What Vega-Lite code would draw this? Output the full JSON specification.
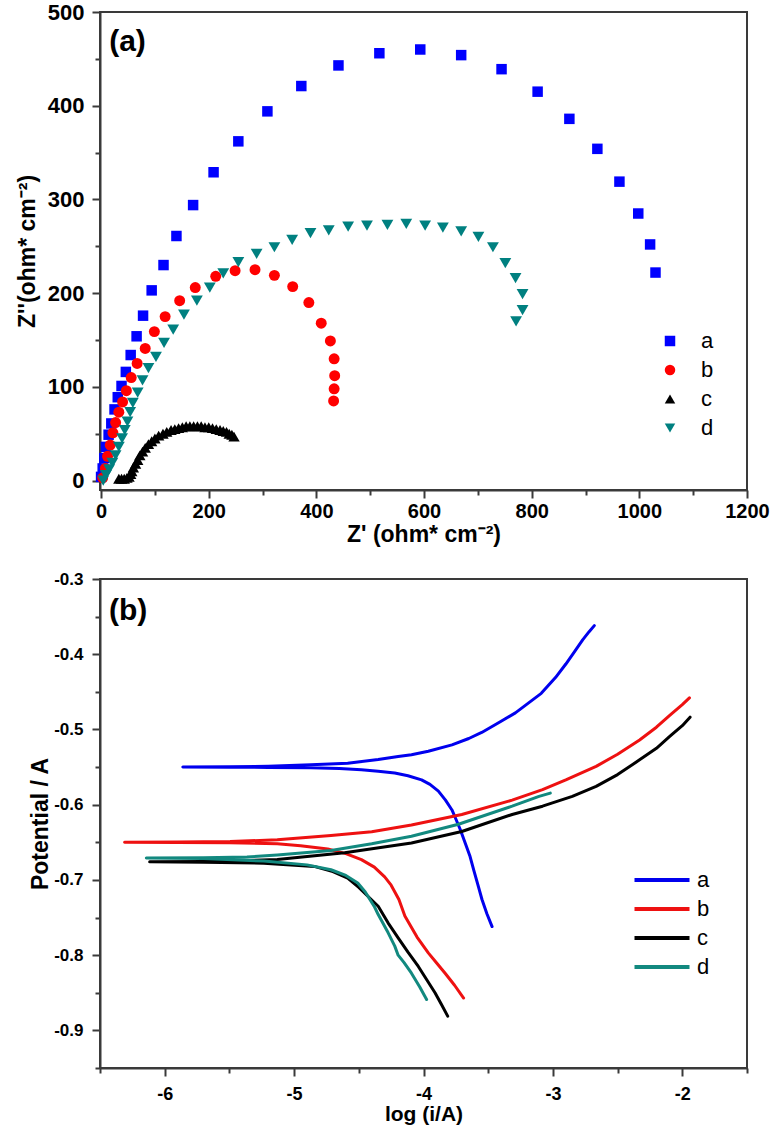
{
  "$schema": "https://vega.github.io/schema/vega-lite/v6.json",
  "padding": {"left": 15, "top": 0, "right": 10, "bottom": 0},
  "bounds": "flush",
  "spacing": 89,
  "config": {
    "font": "Liberation Sans",
    "view": {"stroke": "#3a3a3a", "strokeWidth": 2},
    "axis": {"grid": false, "labelFont": "Liberation Sans", "labelFontWeight": "bold", "titleFont": "Liberation Sans", "titleFontWeight": "bold", "labelColor": "#000", "titleColor": "#000", "domainColor": "#3a3a3a", "tickColor": "#3a3a3a", "domainWidth": 2, "tickWidth": 2, "labelOverlap": false, "labelFlush": false},
    "legend": {"labelFont": "Liberation Sans", "labelColor": "#000"}
  },
  "datasets": {
    "eis": [
      {"s":"a","zr":0,"zi":4},{"s":"a","zr":3,"zi":13},{"s":"a","zr":6,"zi":24},{"s":"a","zr":9,"zi":36},{"s":"a","zr":14,"zi":49},{"s":"a","zr":19,"zi":61},{"s":"a","zr":25,"zi":76},{"s":"a","zr":31,"zi":89},{"s":"a","zr":38,"zi":101},{"s":"a","zr":46,"zi":116},{"s":"a","zr":55,"zi":134},{"s":"a","zr":66,"zi":154},{"s":"a","zr":78,"zi":176},{"s":"a","zr":94,"zi":203},{"s":"a","zr":116,"zi":230},{"s":"a","zr":140,"zi":261},{"s":"a","zr":171,"zi":294},{"s":"a","zr":209,"zi":329},{"s":"a","zr":255,"zi":362},{"s":"a","zr":309,"zi":394},{"s":"a","zr":372,"zi":421},{"s":"a","zr":441,"zi":443},{"s":"a","zr":517,"zi":456},{"s":"a","zr":593,"zi":460},{"s":"a","zr":669,"zi":454},{"s":"a","zr":744,"zi":439},{"s":"a","zr":811,"zi":415},{"s":"a","zr":870,"zi":386},{"s":"a","zr":922,"zi":354},{"s":"a","zr":963,"zi":319},{"s":"a","zr":998,"zi":285},{"s":"a","zr":1020,"zi":252},{"s":"a","zr":1030,"zi":222},
      {"s":"b","zr":3,"zi":3},{"s":"b","zr":8,"zi":13},{"s":"b","zr":12,"zi":26},{"s":"b","zr":17,"zi":38},{"s":"b","zr":22,"zi":51},{"s":"b","zr":27,"zi":62},{"s":"b","zr":33,"zi":73},{"s":"b","zr":40,"zi":84},{"s":"b","zr":47,"zi":96},{"s":"b","zr":56,"zi":110},{"s":"b","zr":67,"zi":125},{"s":"b","zr":82,"zi":141},{"s":"b","zr":99,"zi":159},{"s":"b","zr":119,"zi":175},{"s":"b","zr":146,"zi":192},{"s":"b","zr":175,"zi":206},{"s":"b","zr":213,"zi":218},{"s":"b","zr":249,"zi":224},{"s":"b","zr":286,"zi":225},{"s":"b","zr":322,"zi":219},{"s":"b","zr":356,"zi":207},{"s":"b","zr":386,"zi":190},{"s":"b","zr":409,"zi":168},{"s":"b","zr":426,"zi":149},{"s":"b","zr":433,"zi":130},{"s":"b","zr":434,"zi":112},{"s":"b","zr":433,"zi":98},{"s":"b","zr":432,"zi":85},
      {"s":"c","zr":33,"zi":2},{"s":"c","zr":38,"zi":2},{"s":"c","zr":43,"zi":2},{"s":"c","zr":48,"zi":3},{"s":"c","zr":52,"zi":4},{"s":"c","zr":55,"zi":7},{"s":"c","zr":57,"zi":10},{"s":"c","zr":60,"zi":14},{"s":"c","zr":64,"zi":18},{"s":"c","zr":68,"zi":22},{"s":"c","zr":72,"zi":27},{"s":"c","zr":77,"zi":31},{"s":"c","zr":82,"zi":35},{"s":"c","zr":88,"zi":39},{"s":"c","zr":94,"zi":42},{"s":"c","zr":100,"zi":45},{"s":"c","zr":107,"zi":48},{"s":"c","zr":115,"zi":50},{"s":"c","zr":122,"zi":52},{"s":"c","zr":130,"zi":54},{"s":"c","zr":137,"zi":55},{"s":"c","zr":144,"zi":56},{"s":"c","zr":151,"zi":57},{"s":"c","zr":158,"zi":58},{"s":"c","zr":165,"zi":58},{"s":"c","zr":172,"zi":58},{"s":"c","zr":179,"zi":58},{"s":"c","zr":186,"zi":58},{"s":"c","zr":193,"zi":57},{"s":"c","zr":200,"zi":57},{"s":"c","zr":207,"zi":56},{"s":"c","zr":214,"zi":55},{"s":"c","zr":221,"zi":54},{"s":"c","zr":227,"zi":53},{"s":"c","zr":233,"zi":52},{"s":"c","zr":238,"zi":50},{"s":"c","zr":243,"zi":49},{"s":"c","zr":247,"zi":47},
      {"s":"d","zr":4,"zi":0},{"s":"d","zr":9,"zi":6},{"s":"d","zr":15,"zi":12},{"s":"d","zr":21,"zi":19},{"s":"d","zr":27,"zi":27},{"s":"d","zr":33,"zi":36},{"s":"d","zr":39,"zi":45},{"s":"d","zr":44,"zi":54},{"s":"d","zr":49,"zi":63},{"s":"d","zr":54,"zi":73},{"s":"d","zr":59,"zi":83},{"s":"d","zr":68,"zi":94},{"s":"d","zr":77,"zi":107},{"s":"d","zr":88,"zi":120},{"s":"d","zr":102,"zi":132},{"s":"d","zr":117,"zi":147},{"s":"d","zr":134,"zi":161},{"s":"d","zr":154,"zi":177},{"s":"d","zr":178,"zi":192},{"s":"d","zr":202,"zi":206},{"s":"d","zr":227,"zi":221},{"s":"d","zr":255,"zi":233},{"s":"d","zr":289,"zi":242},{"s":"d","zr":322,"zi":249},{"s":"d","zr":355,"zi":257},{"s":"d","zr":389,"zi":264},{"s":"d","zr":423,"zi":267},{"s":"d","zr":459,"zi":271},{"s":"d","zr":494,"zi":272},{"s":"d","zr":532,"zi":273},{"s":"d","zr":567,"zi":274},{"s":"d","zr":602,"zi":272},{"s":"d","zr":635,"zi":270},{"s":"d","zr":669,"zi":266},{"s":"d","zr":701,"zi":260},{"s":"d","zr":728,"zi":249},{"s":"d","zr":751,"zi":232},{"s":"d","zr":770,"zi":216},{"s":"d","zr":783,"zi":199},{"s":"d","zr":783,"zi":182},{"s":"d","zr":771,"zi":170}
    ],
    "tafel": [
      {"s":"a","logi":-3.47,"E":-0.762},{"s":"a","logi":-3.51,"E":-0.745},{"s":"a","logi":-3.548,"E":-0.726},{"s":"a","logi":-3.574,"E":-0.71},{"s":"a","logi":-3.61,"E":-0.688},{"s":"a","logi":-3.64,"E":-0.669},{"s":"a","logi":-3.68,"E":-0.65},{"s":"a","logi":-3.716,"E":-0.633},{"s":"a","logi":-3.75,"E":-0.619},{"s":"a","logi":-3.78,"E":-0.607},{"s":"a","logi":-3.83,"E":-0.594},{"s":"a","logi":-3.885,"E":-0.582},{"s":"a","logi":-3.95,"E":-0.573},{"s":"a","logi":-4.015,"E":-0.567},{"s":"a","logi":-4.12,"E":-0.5615},{"s":"a","logi":-4.222,"E":-0.558},{"s":"a","logi":-4.35,"E":-0.5555},{"s":"a","logi":-4.48,"E":-0.5537},{"s":"a","logi":-4.65,"E":-0.552},{"s":"a","logi":-4.87,"E":-0.5508},{"s":"a","logi":-5.2,"E":-0.5504},{"s":"a","logi":-5.5,"E":-0.5502},
      {"s":"a","logi":-5.86,"E":-0.55},
      {"s":"a","logi":-5.5,"E":-0.5497},{"s":"a","logi":-5.2,"E":-0.549},{"s":"a","logi":-4.87,"E":-0.547},{"s":"a","logi":-4.586,"E":-0.5448},{"s":"a","logi":-4.35,"E":-0.54},{"s":"a","logi":-4.196,"E":-0.536},{"s":"a","logi":-4.093,"E":-0.5335},{"s":"a","logi":-3.963,"E":-0.529},{"s":"a","logi":-3.78,"E":-0.5205},{"s":"a","logi":-3.65,"E":-0.512},{"s":"a","logi":-3.55,"E":-0.504},{"s":"a","logi":-3.42,"E":-0.491},{"s":"a","logi":-3.29,"E":-0.478},{"s":"a","logi":-3.19,"E":-0.465},{"s":"a","logi":-3.09,"E":-0.452},{"s":"a","logi":-2.98,"E":-0.431},{"s":"a","logi":-2.9,"E":-0.413},{"s":"a","logi":-2.83,"E":-0.396},{"s":"a","logi":-2.77,"E":-0.381},{"s":"a","logi":-2.72,"E":-0.37},{"s":"a","logi":-2.68,"E":-0.362},
      {"s":"b","logi":-3.69,"E":-0.857},{"s":"b","logi":-3.76,"E":-0.84},{"s":"b","logi":-3.833,"E":-0.824},{"s":"b","logi":-3.9,"E":-0.81},{"s":"b","logi":-3.963,"E":-0.797},{"s":"b","logi":-4.05,"E":-0.776},{"s":"b","logi":-4.144,"E":-0.748},{"s":"b","logi":-4.19,"E":-0.726},{"s":"b","logi":-4.25,"E":-0.707},{"s":"b","logi":-4.3,"E":-0.696},{"s":"b","logi":-4.38,"E":-0.683},{"s":"b","logi":-4.48,"E":-0.673},{"s":"b","logi":-4.6,"E":-0.665},{"s":"b","logi":-4.74,"E":-0.659},{"s":"b","logi":-4.95,"E":-0.6545},{"s":"b","logi":-5.13,"E":-0.652},{"s":"b","logi":-5.5,"E":-0.6506},{"s":"b","logi":-5.9,"E":-0.6502},
      {"s":"b","logi":-6.31,"E":-0.65},
      {"s":"b","logi":-5.9,"E":-0.6497},{"s":"b","logi":-5.494,"E":-0.649},{"s":"b","logi":-5.13,"E":-0.6466},{"s":"b","logi":-4.715,"E":-0.641},{"s":"b","logi":-4.4,"E":-0.636},{"s":"b","logi":-4.093,"E":-0.627},{"s":"b","logi":-3.704,"E":-0.613},{"s":"b","logi":-3.315,"E":-0.594},{"s":"b","logi":-3.08,"E":-0.58},{"s":"b","logi":-2.9,"E":-0.567},{"s":"b","logi":-2.666,"E":-0.549},{"s":"b","logi":-2.5,"E":-0.533},{"s":"b","logi":-2.33,"E":-0.514},{"s":"b","logi":-2.2,"E":-0.497},{"s":"b","logi":-2.095,"E":-0.481},{"s":"b","logi":-2.0,"E":-0.467},{"s":"b","logi":-1.945,"E":-0.458},
      {"s":"c","logi":-3.813,"E":-0.881},{"s":"c","logi":-3.86,"E":-0.866},{"s":"c","logi":-3.911,"E":-0.85},{"s":"c","logi":-3.97,"E":-0.834},{"s":"c","logi":-4.04,"E":-0.815},{"s":"c","logi":-4.12,"E":-0.796},{"s":"c","logi":-4.196,"E":-0.777},{"s":"c","logi":-4.274,"E":-0.757},{"s":"c","logi":-4.35,"E":-0.735},{"s":"c","logi":-4.404,"E":-0.726},{"s":"c","logi":-4.5,"E":-0.71},{"s":"c","logi":-4.586,"E":-0.6975},{"s":"c","logi":-4.7,"E":-0.689},{"s":"c","logi":-4.845,"E":-0.682},{"s":"c","logi":-5.234,"E":-0.6778},{"s":"c","logi":-5.7,"E":-0.6765},
      {"s":"c","logi":-6.116,"E":-0.676},
      {"s":"c","logi":-5.7,"E":-0.6755},{"s":"c","logi":-5.13,"E":-0.673},{"s":"c","logi":-4.61,"E":-0.664},{"s":"c","logi":-4.093,"E":-0.651},{"s":"c","logi":-3.704,"E":-0.6356},{"s":"c","logi":-3.315,"E":-0.613},{"s":"c","logi":-3.08,"E":-0.602},{"s":"c","logi":-2.85,"E":-0.589},{"s":"c","logi":-2.666,"E":-0.5757},{"s":"c","logi":-2.5,"E":-0.56},{"s":"c","logi":-2.33,"E":-0.5404},{"s":"c","logi":-2.2,"E":-0.525},{"s":"c","logi":-2.095,"E":-0.509},{"s":"c","logi":-2.0,"E":-0.495},{"s":"c","logi":-1.94,"E":-0.4837},
      {"s":"d","logi":-3.976,"E":-0.859},{"s":"d","logi":-4.03,"E":-0.842},{"s":"d","logi":-4.093,"E":-0.824},{"s":"d","logi":-4.15,"E":-0.81},{"s":"d","logi":-4.196,"E":-0.8},{"s":"d","logi":-4.222,"E":-0.788},{"s":"d","logi":-4.274,"E":-0.77},{"s":"d","logi":-4.35,"E":-0.746},{"s":"d","logi":-4.378,"E":-0.736},{"s":"d","logi":-4.45,"E":-0.716},{"s":"d","logi":-4.508,"E":-0.704},{"s":"d","logi":-4.6,"E":-0.694},{"s":"d","logi":-4.715,"E":-0.6865},{"s":"d","logi":-4.9,"E":-0.68},{"s":"d","logi":-5.234,"E":-0.675},{"s":"d","logi":-5.7,"E":-0.6715},
      {"s":"d","logi":-6.142,"E":-0.671},
      {"s":"d","logi":-5.7,"E":-0.6705},{"s":"d","logi":-5.364,"E":-0.6696},{"s":"d","logi":-5.13,"E":-0.667},{"s":"d","logi":-4.715,"E":-0.661},{"s":"d","logi":-4.4,"E":-0.652},{"s":"d","logi":-4.093,"E":-0.642},{"s":"d","logi":-3.73,"E":-0.626},{"s":"d","logi":-3.315,"E":-0.602},{"s":"d","logi":-3.107,"E":-0.589},{"s":"d","logi":-3.02,"E":-0.5846}
    ]
  },
  "vconcat": [
    {
      "width": 647,
      "height": 478,
      "layer": [
        {
          "data": {"name": "eis"},
          "mark": {"type": "point", "filled": true, "opacity": 1},
          "encoding": {
            "x": {"field": "zr", "type": "quantitative", "scale": {"domain": [-2, 1200], "nice": false, "zero": false},
              "axis": {"title": "Z' (ohm* cm⁻²)", "titleFontSize": 23, "labelFontSize": 20, "values": [0,100,200,300,400,500,600,700,800,900,1000,1100,1200],
                "labelExpr": "datum.value % 200 === 0 ? toString(datum.value) : ''",
                "tickSize": {"condition": {"test": "datum.value % 200 === 0", "value": 8}, "value": 5},
                "labelPadding": 3, "titlePadding": 2}},
            "y": {"field": "zi", "type": "quantitative", "scale": {"domain": [-10, 500], "nice": false, "zero": false},
              "axis": {"title": "Z''(ohm* cm⁻²)", "titleFontSize": 23, "labelFontSize": 22, "values": [0,50,100,150,200,250,300,350,400,450,500],
                "labelExpr": "datum.value % 100 === 0 ? toString(datum.value) : ''",
                "tickSize": {"condition": {"test": "datum.value % 100 === 0", "value": 8}, "value": 5},
                "labelPadding": 8, "titlePadding": 8}},
            "color": {"field": "s", "type": "nominal", "scale": {"domain": ["a","b","c","d"], "range": ["#0000ff","#ff0000","#000000","#008080"]},
              "legend": {"title": null, "orient": "none", "legendX": 559, "legendY": 318, "labelFontSize": 22, "symbolSize": 110, "rowPadding": 7, "labelOffset": 20, "padding": 0}},
            "shape": {"field": "s", "type": "nominal", "scale": {"domain": ["a","b","c","d"], "range": ["square","circle","triangle-up","triangle-down"]},
              "legend": {"title": null, "orient": "none", "legendX": 559, "legendY": 318, "labelFontSize": 22, "symbolSize": 110, "rowPadding": 7, "labelOffset": 20, "padding": 0}},
            "size": {"field": "s", "type": "ordinal", "scale": {"domain": ["a","b","c","d"], "range": [110, 140, 60, 130]}, "legend": null}
          }
        },
        {
          "data": {"values": [{}]},
          "mark": {"type": "text", "text": "(a)", "fontSize": 30, "fontWeight": "bold", "align": "left", "baseline": "alphabetic", "color": "#000"},
          "encoding": {"x": {"datum": 15}, "y": {"datum": 458}}
        }
      ]
    },
    {
      "width": 647,
      "height": 489,
      "encoding": {
        "x": {"type": "quantitative", "scale": {"domain": [-6.5, -1.5], "nice": false, "zero": false},
          "axis": {"title": "log (i/A)", "titleFontSize": 21, "labelFontSize": 18, "values": [-6.5,-6,-5.5,-5,-4.5,-4,-3.5,-3,-2.5,-2,-1.5],
            "labelExpr": "datum.value % 1 === 0 ? toString(datum.value) : ''",
            "tickSize": {"condition": {"test": "datum.value % 1 === 0", "value": 8}, "value": 5},
            "labelPadding": 9, "titlePadding": 0}},
        "y": {"type": "quantitative", "scale": {"domain": [-0.95, -0.3], "nice": false, "zero": false},
          "axis": {"title": "Potential / A", "titleFontSize": 23, "labelFontSize": 17, "values": [-0.95,-0.9,-0.85,-0.8,-0.75,-0.7,-0.65,-0.6,-0.55,-0.5,-0.45,-0.4,-0.35,-0.3],
            "labelExpr": "round(abs(datum.value) * 100) % 10 === 0 ? toString(datum.value) : ''",
            "tickSize": {"condition": {"test": "round(abs(datum.value) * 100) % 10 === 0", "value": 8}, "value": 5},
            "labelPadding": 9, "titlePadding": 1}}
      },
      "layer": [
        {
          "data": {"name": "tafel"},
          "mark": {"type": "line", "strokeWidth": 3, "strokeCap": "round", "strokeJoin": "round"},
          "encoding": {
            "x": {"field": "logi", "type": "quantitative"},
            "y": {"field": "E", "type": "quantitative"},
            "color": {"field": "s", "type": "nominal", "scale": {"domain": ["a","b","c","d"], "range": ["#0000ee","#ee1111","#000000","#12897f"]},
              "legend": {"title": null, "orient": "none", "legendX": 549, "legendY": 288, "symbolType": "M-2.5,0H2.5", "symbolStrokeWidth": 4, "symbolSize": 484, "labelFontSize": 22, "labelOffset": 22, "rowPadding": 5, "padding": 0}},
            "order": {"field": "E", "type": "quantitative"}
          }
        },
        {
          "data": {"values": [{}]},
          "mark": {"type": "text", "text": "(b)", "fontSize": 30, "fontWeight": "bold", "align": "left", "baseline": "alphabetic", "color": "#000"},
          "encoding": {"x": {"datum": -6.43, "type": "quantitative"}, "y": {"datum": -0.354, "type": "quantitative"}}
        }
      ]
    }
  ],
  "resolve": {"scale": {"color": "independent", "shape": "independent", "x": "independent", "y": "independent"}, "legend": {"color": "independent", "shape": "independent"}}
}
